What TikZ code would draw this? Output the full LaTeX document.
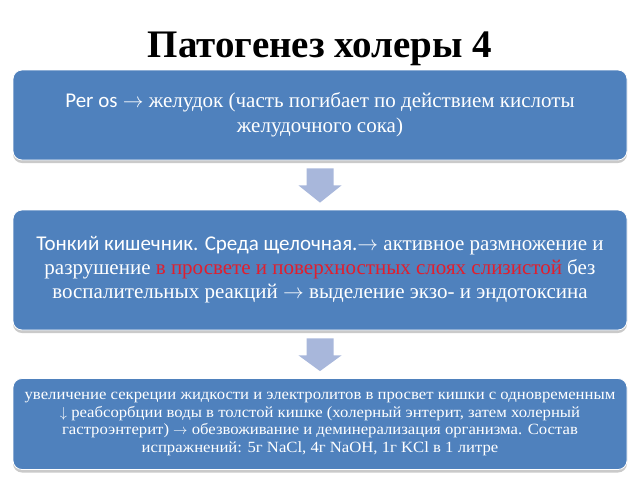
\documentclass[tikz,border=0pt]{standalone}
\usepackage{fontspec}
\setmainfont{Liberation Serif}
\newfontfamily\calib{Carlito}
\newfontfamily\widerm[FakeStretch=1.07]{Liberation Serif}
\newcommand{\myarr}{\ensuremath{\rightarrow}}
\newcommand{\mydown}{\ensuremath{\downarrow}}
\usetikzlibrary{calc,shadows}
\definecolor{boxblue}{RGB}{79,129,189}
\definecolor{arrowblue}{RGB}{168,183,219}
\definecolor{redtext}{RGB}{225,30,45}
\tikzset{
  box/.style={draw=white, line width=0.8pt, fill=boxblue, rounded corners=9pt,
    minimum width=614pt, text=white, align=center,
    drop shadow={shadow xshift=0pt, shadow yshift=-3pt, opacity=0.35, fill=black!60}},
  blockarrow/.style={fill=arrowblue, draw=none}
}
\begin{document}
\begin{tikzpicture}[x=1pt,y=-1pt]
\useasboundingbox (0,0) rectangle (640,480);
\node[font=\fontsize{39}{42}\selectfont\bfseries, anchor=base] (title) at (320,57) {Патогенез холеры 4};
\node[box, minimum height=90pt, font=\rmfamily\fontsize{21}{25}\selectfont] (b1) at (320,115)
 {{\calib Per os} \myarr{} желудок (часть погибает по действием кислоты\\желудочного сока)};
\node[box, minimum height=120pt, font=\rmfamily\fontsize{21}{24}\selectfont] (b2) at (320,270)
 {{\calib Тонкий кишечник. Среда щелочная.}\myarr{} активное размножение и\\
 разрушение \textcolor{redtext}{в просвете и поверхностных слоях слизистой} без\\
 воспалительных реакций \myarr{} выделение экзо- и эндотоксина};
\node[box, minimum height=91pt, font=\widerm\fontsize{15.6}{17.5}\selectfont] (b3) at (320,424)
 {увеличение секреции жидкости и электролитов в просвет кишки с одновременным\\
 \mydown{} реабсорбции воды в толстой кишке (холерный энтерит, затем холерный\\
 гастроэнтерит) \myarr{} обезвоживание и деминерализация организма. Состав\\
 испражнений: 5г NaCl, 4г NaOH, 1г KCl в 1 литре};
\foreach \a/\b in {b1/b2, b2/b3}{
  \fill[blockarrow] ($(\a.south)+(-13.5,8)$) -- ($(\a.south)+(13.5,8)$) -- ($(\a.south)+(13.5,25)$)
    -- ($(\a.south)+(21.5,25)$) -- ($(\b.north)+(0,-7)$) -- ($(\a.south)+(-21.5,25)$)
    -- ($(\a.south)+(-13.5,25)$) -- cycle;
}
\end{tikzpicture}
\end{document}
